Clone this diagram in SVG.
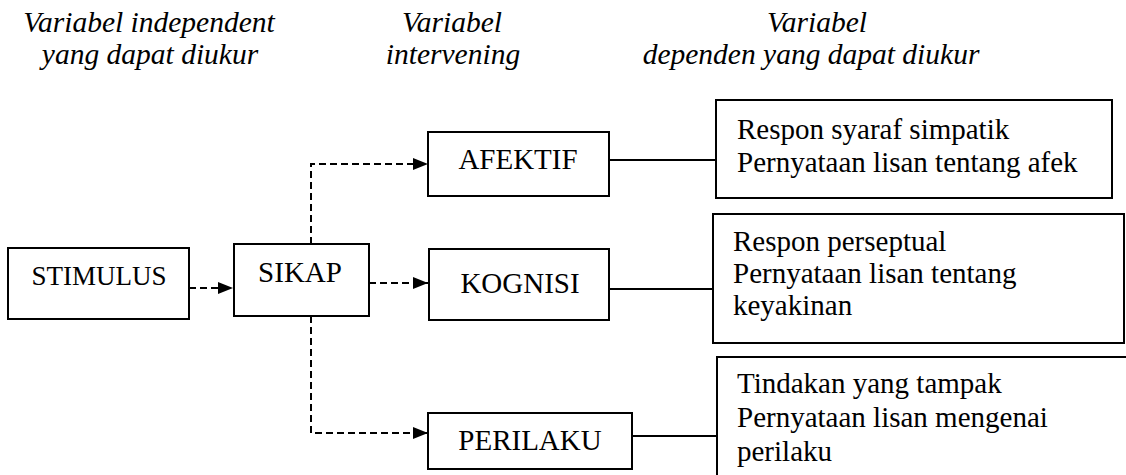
<svg xmlns="http://www.w3.org/2000/svg" width="1126" height="475" viewBox="0 0 1126 475" font-family="Liberation Serif, Times New Roman, DejaVu Serif, serif">
<style>
.box{fill:#fff;stroke:#000;stroke-width:2}
.t{font-family:'Liberation Serif','Times New Roman','DejaVu Serif',serif;font-size:29px;fill:#000}
.h{font-family:'Liberation Serif','Times New Roman','DejaVu Serif',serif;font-size:29.5px;font-style:italic;fill:#000;text-anchor:middle}
.c{text-anchor:middle}
.dash{fill:none;stroke:#000;stroke-width:2;stroke-dasharray:7,4}
.solid{fill:none;stroke:#000;stroke-width:2}
</style>
<defs>
<marker id="arr" markerUnits="userSpaceOnUse" markerWidth="16" markerHeight="14" refX="15" refY="7" orient="auto">
<path d="M0,1 L15,7 L0,13 Z" fill="#000"/>
</marker>
</defs>
<g id="headers">
<text class="h" x="149" y="32">Variabel independent</text>
<text class="h" x="150" y="64">yang dapat diukur</text>
<text class="h" x="452" y="32">Variabel</text>
<text class="h" x="453" y="64">intervening</text>
<text class="h" x="817" y="32">Variabel</text>
<text class="h" x="811" y="64">dependen yang dapat diukur</text>
</g>
<g id="connectors">
<line class="dash" x1="189" y1="288" x2="233" y2="288" marker-end="url(#arr)"/>
<line class="dash" x1="369" y1="283" x2="428" y2="283" marker-end="url(#arr)"/>
<polyline class="dash" points="311,244 311,164 428,164" marker-end="url(#arr)"/>
<polyline class="dash" points="311,316 311,433 428,433" marker-end="url(#arr)"/>
<line class="solid" x1="609" y1="160" x2="716" y2="160"/>
<line class="solid" x1="609" y1="289" x2="713" y2="289"/>
<line class="solid" x1="632" y1="436" x2="717" y2="436"/>
</g>
<g id="stimulus">
<rect class="box" x="8" y="248" width="181" height="71"/>
<text class="t c" x="99" y="285" style="font-size:27px">STIMULUS</text>
</g>
<g id="sikap">
<rect class="box" x="234" y="244" width="135" height="72"/>
<text class="t c" x="300" y="282">SIKAP</text>
</g>
<g id="afektif">
<rect class="box" x="428" y="132" width="181" height="64"/>
<text class="t c" x="518" y="169">AFEKTIF</text>
</g>
<g id="kognisi">
<rect class="box" x="429" y="249" width="180" height="71"/>
<text class="t c" x="520" y="293">KOGNISI</text>
</g>
<g id="perilaku">
<rect class="box" x="428" y="413" width="204" height="56"/>
<text class="t c" x="530" y="450">PERILAKU</text>
</g>
<g id="respon-afektif">
<rect class="box" x="716" y="100" width="396" height="98"/>
<text class="t" x="737" y="139">Respon syaraf simpatik</text>
<text class="t" x="737" y="172">Pernyataan lisan tentang afek</text>
</g>
<g id="respon-kognisi">
<rect class="box" x="713" y="214" width="411" height="129"/>
<text class="t" x="733" y="251">Respon perseptual</text>
<text class="t" x="733" y="283">Pernyataan lisan tentang</text>
<text class="t" x="733" y="315">keyakinan</text>
</g>
<g id="respon-perilaku">
<rect class="box" x="717" y="357" width="420" height="130"/>
<text class="t" x="737" y="393">Tindakan yang tampak</text>
<text class="t" x="737" y="427">Pernyataan lisan mengenai</text>
<text class="t" x="737" y="461">perilaku</text>
</g>
</svg>
